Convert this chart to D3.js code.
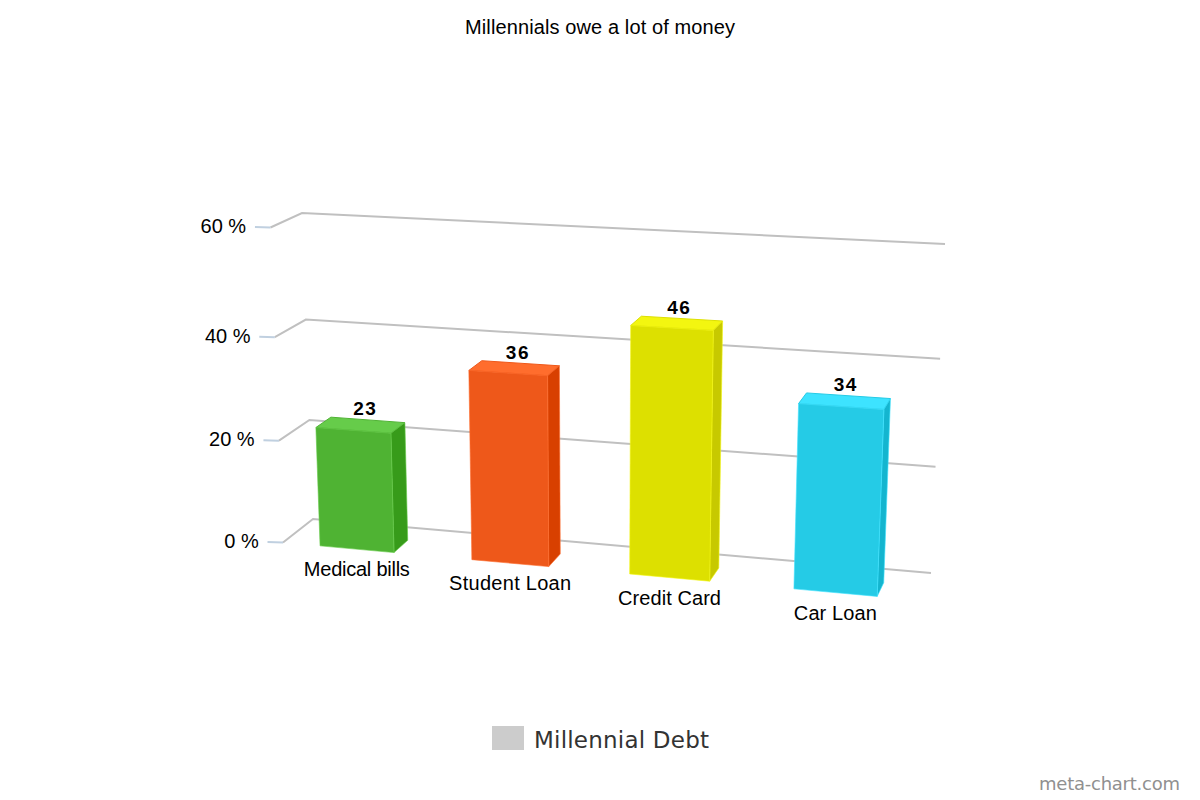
<!DOCTYPE html>
<html>
<head>
<meta charset="utf-8">
<title>Millennials owe a lot of money</title>
<script src="https://cdn.jsdelivr.net/npm/d3@7/dist/d3.min.js"></script>
<style>
  html, body { margin: 0; padding: 0; background: #fff; }
  svg { display: block; }
  text { font-family: "Liberation Sans", Arial, sans-serif; }
</style>
</head>
<body>
<svg id="chart" width="1200" height="800"></svg>
<script>
const categories = ["Medical bills", "Student Loan", "Credit Card", "Car Loan"];
const debtValues = [23, 36, 46, 34];
const yTicks = [0, 20, 40, 60];
const faceColors = ["#4FB333", "#EE581A", "#DDE000", "#25CBE6"];
const sideColors = ["#379B1A", "#D84000", "#C7C900", "#14B5CF"];
const topColors = ["#66CC4A", "#FF6D2D", "#F3F610", "#3DE3FF"];
const categoryLabelWidths = [106, 122, 103, 83];
const legendLabel = "Millennial Debt";
const titleText = "Millennials owe a lot of money";
const creditText = "meta-chart.com";

// Perspective camera: maps (x, y, z) in the unit cube to the screen
const camera = [
  [549.65, -22.26, 38.57, 274.43],
  [11.93, -313.94, -7.07, 526.07],
  [-0.07342, -0.03728, 0.0303, 0.9697]
];
function project(x, y, z) {
  const v = [x, y, z, 1];
  const r = camera.map(row => d3.sum(row, (c, i) => c * v[i]));
  return [r[0] / r[2], r[1] / r[2]];
}

const xBand = d3.scaleBand().domain(categories).range([0, 1.001]).paddingInner(0.508).paddingOuter(0.25);
const yScale = d3.scaleLinear().domain(yTicks).range([0, 0.332, 0.6605, 1]);
const barDepth = 0.5;
const barTopLift = 0.002;

const svg = d3.select("#chart");
const outline = d3.line();
const closed = pts => outline(pts) + "Z";

// Title
svg.append("text").attr("x", 600).attr("y", 34).attr("text-anchor", "middle")
  .attr("font-size", 20).attr("fill", "#000").attr("textLength", 270).text(titleText);

// Grid lines on the left and back walls, ticks and axis labels
const grid = svg.append("g");
yTicks.forEach(t => {
  const y = yScale(t);
  const f = project(0, y, 0), b = project(0, y, 1), r = project(1, y, 1);
  grid.append("path").attr("d", outline([f, b, r])).attr("fill", "none")
    .attr("stroke", "#C0C0C0").attr("stroke-width", 2);
  grid.append("path").attr("d", outline([[f[0] - 15.5, f[1] - 0.5], f])).attr("fill", "none")
    .attr("stroke", "#C0D0E0").attr("stroke-width", 2);
  grid.append("text").attr("x", f[0] - 24.3).attr("y", f[1] + 5.8).attr("text-anchor", "end")
    .attr("font-size", 20).attr("fill", "#000").text(t + " %");
});

// Bars
const bars = svg.append("g").selectAll("g").data(categories).join("g");
bars.each(function(cat, i) {
  const g = d3.select(this);
  const x0 = xBand(cat), x1 = x0 + xBand.bandwidth();
  const y1 = yScale(debtValues[i]) + barTopLift;
  g.append("path").attr("d", closed([project(x0, y1, 0), project(x0, y1, barDepth), project(x1, y1, barDepth), project(x1, y1, 0)]))
    .attr("fill", topColors[i]).attr("stroke", faceColors[i]).attr("stroke-width", 1).attr("stroke-linejoin", "round");
  g.append("path").attr("d", closed([project(x1, 0, 0), project(x1, 0, barDepth), project(x1, y1, barDepth), project(x1, y1, 0)]))
    .attr("fill", sideColors[i]).attr("stroke", topColors[i]).attr("stroke-opacity", 0.6).attr("stroke-width", 1).attr("stroke-linejoin", "round");
  g.append("path").attr("d", closed([project(x0, 0, 0), project(x1, 0, 0), project(x1, y1, 0), project(x0, y1, 0)]))
    .attr("fill", faceColors[i]).attr("stroke", topColors[i]).attr("stroke-opacity", 0.6).attr("stroke-width", 1).attr("stroke-linejoin", "round");
});

// Value labels and category labels
categories.forEach((cat, i) => {
  const cx = xBand(cat) + xBand.bandwidth() / 2;
  const top = project(cx, yScale(debtValues[i]) + barTopLift, barDepth);
  svg.append("text").attr("x", top[0] - 2.5).attr("y", top[1] - 4.7).attr("text-anchor", "middle")
    .attr("font-size", 19).attr("font-weight", "bold").attr("letter-spacing", 1.5).attr("fill", "#000")
    .text(debtValues[i]);
  const base = project(cx, 0, 0);
  svg.append("text").attr("x", base[0]).attr("y", base[1] + 27).attr("text-anchor", "middle")
    .attr("font-size", 20).attr("fill", "#000").attr("textLength", categoryLabelWidths[i]).text(cat);
});

// Legend
svg.append("rect").attr("x", 492).attr("y", 726).attr("width", 32).attr("height", 24).attr("fill", "#CCCCCC");
svg.append("text").attr("x", 534).attr("y", 748).attr("font-size", 23).attr("fill", "#333")
  .style("font-family", '"DejaVu Sans", sans-serif').attr("textLength", 175).text(legendLabel);

// Credit
svg.append("text").attr("x", 1039).attr("y", 790).attr("font-size", 18).attr("fill", "#909090")
  .style("font-family", '"DejaVu Sans", sans-serif').attr("textLength", 141).text(creditText);
</script>
</body>
</html>
